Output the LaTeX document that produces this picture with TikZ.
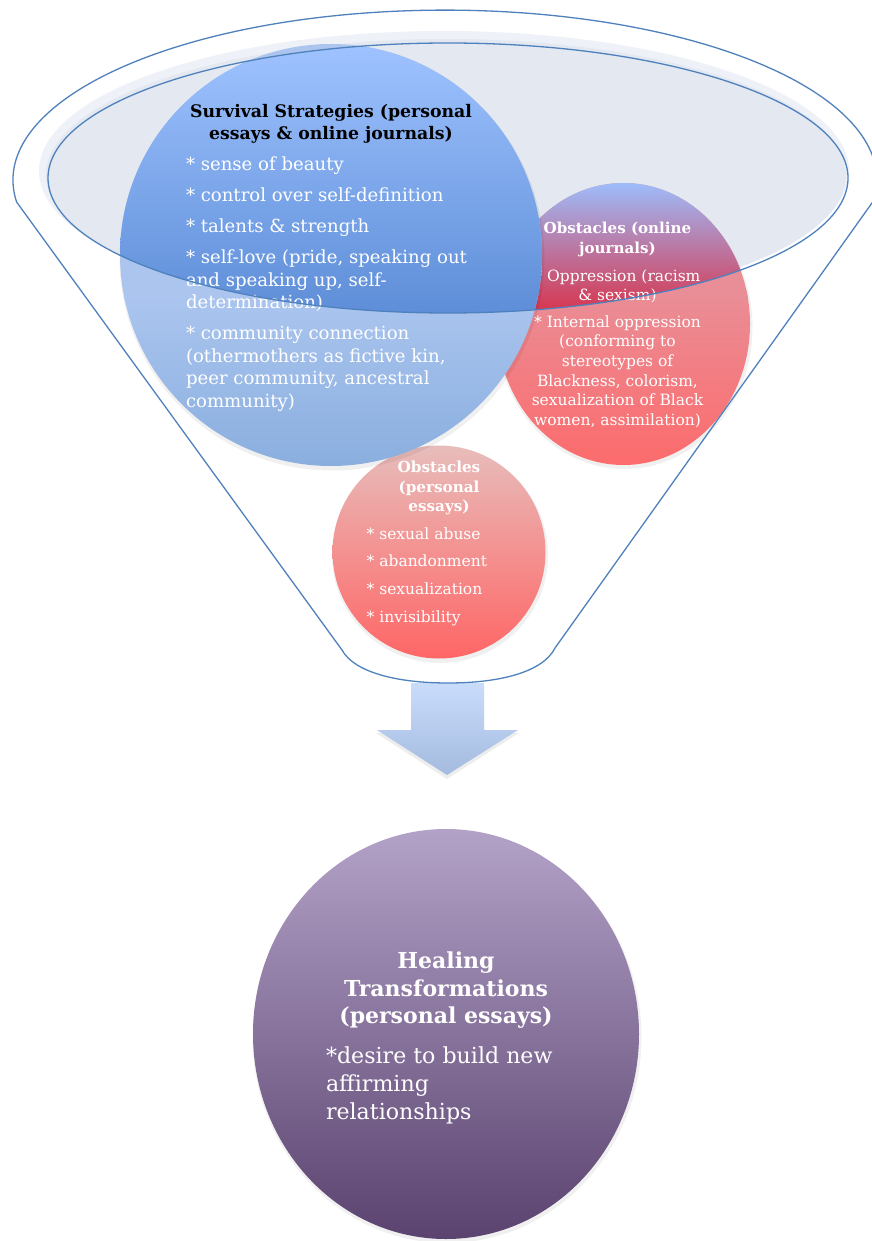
\documentclass[tikz,border=0pt]{standalone}
\usepackage{fontspec}
\setmainfont{DejaVu Serif}
\definecolor{funnelline}{HTML}{4F81BD}
\definecolor{rimfill}{HTML}{E3E8F1}
\definecolor{rimhalo}{HTML}{EEF1F7}
\definecolor{blueA}{HTML}{9FC3FF}
\definecolor{blueB}{HTML}{5E8ED8}
\definecolor{blueC}{HTML}{ABC5EF}
\definecolor{blueD}{HTML}{89AEDE}
\definecolor{redA}{HTML}{9DBCFA}
\definecolor{redB}{HTML}{BC86B2}
\definecolor{redC}{HTML}{D8334B}
\definecolor{redD}{HTML}{E98E97}
\definecolor{redE}{HTML}{FF6666}
\definecolor{pinkA}{HTML}{E7BDBB}
\definecolor{pinkB}{HTML}{FF6666}
\definecolor{purpA}{HTML}{B3A2C8}
\definecolor{purpB}{HTML}{5A436F}
\definecolor{arrA}{HTML}{C9DCFC}
\definecolor{arrB}{HTML}{A4BBDF}
\begin{document}
\begin{tikzpicture}[x=1pt,y=-1pt,
  txt/.style={inner sep=0pt, outer sep=0pt, text=white},
  outline/.style={draw=funnelline, line width=1.3pt}]
\useasboundingbox (0,0) rectangle (871,1241);
\fill[white] (0,0) rectangle (871,1241);

% rim fill of the funnel
\fill[rimhalo] (444,171) ellipse [x radius=405, y radius=140];
\fill[rimfill] (446,175) ellipse [x radius=400, y radius=136];

% small pink circle
\fill[black, opacity=0.06] (440,555) circle [radius=108];
\shade[top color=pinkA, bottom color=pinkB] (439,552) circle [radius=106.5];
\node[txt, anchor=north, align=center, font=\bfseries\fontsize{15.2}{19.5}\selectfont] (pinktitle) at (439,459)
  {\strut Obstacles\\(personal\\essays)};
\node[txt, anchor=north west, align=left, font=\fontsize{15.5}{27.7}\selectfont] (pinkitems) at (366.7,519.9)
  {\strut{*} sexual abuse\\{*} abandonment\\{*} sexualization\\{*} invisibility};

% red circle (online journals)
\fill[black, opacity=0.06] (624.5,327) ellipse [x radius=128, y radius=142];
\begin{scope}
  \clip (623.5,324) ellipse [x radius=126.5, y radius=141];
  \fill[redD] (490,180) rectangle (760,300);
  \shade[top color=redD, middle color=redE, bottom color=redE] (490,290) rectangle (760,490);
  \clip (448,178) ellipse [x radius=400, y radius=135];
  \shade[top color=redA, middle color=redB, bottom color=redC] (490,183) rectangle (760,313);
\end{scope}
\node[txt, anchor=north, align=center, font=\bfseries\fontsize{15.1}{20}\selectfont] (redtitle) at (617.5,219.3)
  {\strut Obstacles (online\\journals)};
\node[txt, anchor=north, align=center, font=\fontsize{15.5}{19.6}\selectfont] (reditems) at (617.5,267.3)
  {\strut{*} Oppression (racism\\\& sexism)\\[7.1pt]{*} Internal oppression\\(conforming to\\stereotypes of\\Blackness, colorism,\\sexualization of Black\\women, assimilation)};

% blue circle (survival strategies)
\fill[black, opacity=0.06] (332,258) circle [radius=212.5];
\begin{scope}
  \clip (331,255) circle [radius=211];
  \fill[blueC] (110,40) rectangle (550,300);
  \shade[top color=blueC, bottom color=blueD] (110,295) rectangle (550,470);
  \clip (448,178) ellipse [x radius=400, y radius=135];
  \shade[top color=blueA, bottom color=blueB] (110,42) rectangle (550,313);
\end{scope}
\node[txt, text=black, anchor=north, align=center, font=\bfseries\fontsize{17.3}{22.3}\selectfont] (bluetitle) at (331,101.4)
  {\strut Survival Strategies (personal\\essays \& online journals)};
\node[txt, anchor=north west, align=left, font=\fontsize{18.1}{22.5}\selectfont] (blueitems) at (186,154.95)
  {\strut{*} sense of beauty\\[8.5pt]{*} control over self-definition\\[8.5pt]{*} talents \& strength\\[8.5pt]{*} self-love (pride, speaking out\\and speaking up, self-\\determination)\\[8.5pt]{*} community connection\\(othermothers as fictive kin,\\peer community, ancestral\\community)};

% rim outline
\draw[outline] (448,178) ellipse [x radius=400, y radius=135];

% arrow
\fill[black, opacity=0.07] (411,686) -- (484,686) -- (484,733) -- (519,733) -- (447,779) -- (376,733) -- (411,733) -- cycle;
\shade[top color=arrA, bottom color=arrB] (411,683) -- (484,683) -- (484,730) -- (518,730) -- (447,775) -- (377,730) -- (411,730) -- cycle;

% funnel outline
\draw[outline, line join=round] (16.6,202) arc[start angle=172.6, end angle=366.8, x radius=432, y radius=170]
  -- (555,648) .. controls (543,672) and (500,683) .. (448,683)
  .. controls (396,683) and (354,672) .. (342,650) -- cycle;

% bottom purple circle
\fill[black, opacity=0.06] (447,1037) ellipse [x radius=194.5, y radius=206];
\shade[top color=purpA, bottom color=purpB] (446,1034) ellipse [x radius=193, y radius=205];
\node[txt, anchor=north, align=center, font=\bfseries\fontsize{22}{27.5}\selectfont] (healtitle) at (446,949.25)
  {\strut Healing\\Transformations\\(personal essays)};
\node[txt, anchor=north west, align=left, font=\fontsize{22.1}{28}\selectfont] (healitems) at (326,1043.7)
  {\strut{*}desire to build new\\affirming\\relationships};
\end{tikzpicture}
\end{document}
